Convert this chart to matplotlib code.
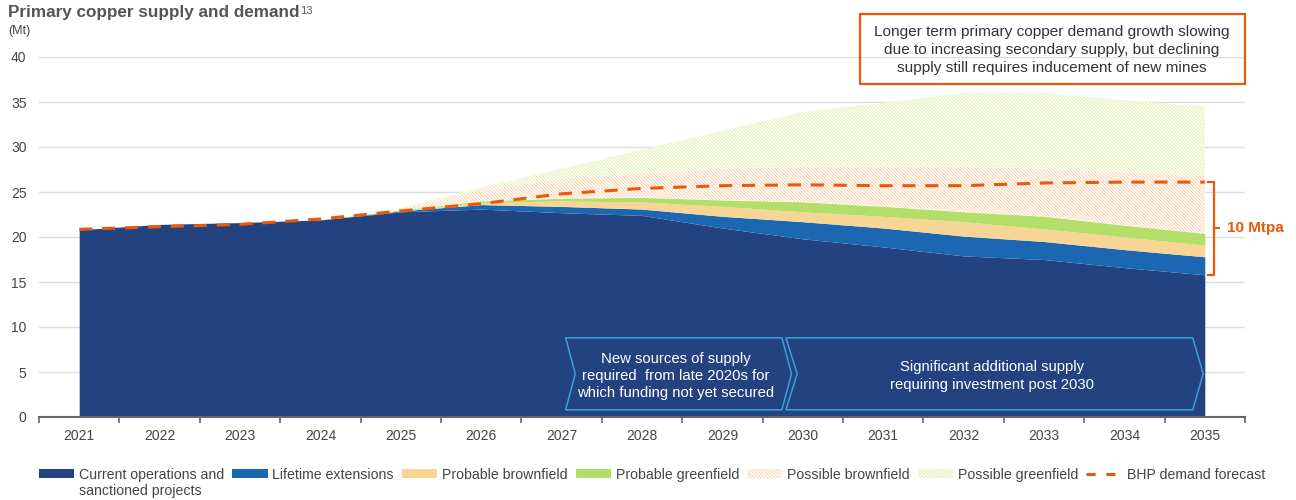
import matplotlib.pyplot as plt
import numpy as np
from matplotlib.patches import Patch, Polygon, Rectangle
from matplotlib.lines import Line2D

plt.rcParams['font.family'] = ['Liberation Sans', 'DejaVu Sans']
plt.rcParams['hatch.linewidth'] = 0.7

# Data (Mt)
years = np.arange(2021, 2036)
current_ops = [20.8, 21.4, 21.6, 21.9, 22.8, 23.1, 22.7, 22.4, 21.0, 19.8,
               18.9, 17.9, 17.5, 16.6, 15.8]
lifetime_ext = [0.0, 0.0, 0.0, 0.0, 0.1, 0.5, 0.7, 0.7, 1.3, 1.9,
                2.1, 2.2, 2.0, 2.0, 2.0]
probable_brown = [0.0, 0.0, 0.0, 0.0, 0.0, 0.25, 0.6, 0.8, 1.1, 1.1,
                  1.3, 1.6, 1.4, 1.4, 1.3]
probable_green = [0.0, 0.0, 0.0, 0.0, 0.1, 0.15, 0.3, 0.5, 0.7, 1.1,
                  1.1, 1.1, 1.4, 1.3, 1.3]
possible_brown = [0.0, 0.0, 0.0, 0.0, 0.1, 1.2, 2.2, 2.7, 3.5, 3.9,
                  4.4, 5.0, 5.3, 5.9, 6.4]
possible_green = [0.0, 0.0, 0.0, 0.0, 0.1, 0.3, 1.1, 2.6, 4.2, 6.1,
                  7.1, 8.2, 8.4, 8.0, 7.7]
demand = [20.85, 21.15, 21.4, 22.0, 22.9, 23.7, 24.8, 25.4, 25.7, 25.8,
          25.7, 25.7, 26.0, 26.1, 26.1]

labels = ["Current operations and", "Lifetime extensions", "Probable brownfield",
          "Probable greenfield", "Possible brownfield", "Possible greenfield",
          "BHP demand forecast"]

c_dark = "#22437f"
c_blue = "#1c67b1"
c_beige = "#f7d595"
c_green = "#b3de69"
c_hatch_brown = "#fbd2ae"
c_hatch_green = "#dfefaa"
c_orange = "#e8590c"
c_text = "#444444"
hatch = "\\" * 10

W, H = 1296, 500
fig = plt.figure(figsize=(W / 100, H / 100), dpi=100)
ax = fig.add_axes([39 / W, 1 - 417 / H, (1245 - 39) / W, (417 - 57) / H])

# Stacked supply layers
layers = [current_ops, lifetime_ext, probable_brown, probable_green,
          possible_brown, possible_green]
base = np.zeros(len(years))
tops = []
for vals in layers:
    top = base + np.array(vals)
    tops.append((base.copy(), top))
    base = top

solid = [c_dark, c_blue, c_beige, c_green]
for (lo, hi), col in zip(tops[:4], solid):
    ax.fill_between(years, lo, hi, color=col, linewidth=0, zorder=2)
for (lo, hi), col in zip(tops[4:], [c_hatch_brown, c_hatch_green]):
    ax.fill_between(years, lo, hi, facecolor="white", edgecolor=col,
                    hatch=hatch, linewidth=0, zorder=1.5)

ax.plot(years, demand, color=c_orange, lw=2.2, dashes=(4.3, 3.2), zorder=4)

# Axes styling
ax.set_xlim(2020.5, 2035.5)
ax.set_ylim(0, 40)
ax.set_yticks(np.arange(0, 41, 5))
ax.set_xticks(years)
ax.set_xticks(np.arange(2020.5, 2036, 1), minor=True)
ax.tick_params(axis='x', which='major', length=0, pad=9, labelsize=10,
               labelcolor=c_text)
ax.tick_params(axis='x', which='minor', length=4, width=1.2, color="#666666")
ax.tick_params(axis='y', length=0, pad=9, labelsize=10, labelcolor=c_text)
for s in ["top", "right", "left"]:
    ax.spines[s].set_visible(False)
ax.spines["bottom"].set_color("#666666")
ax.spines["bottom"].set_linewidth(1.5)
ax.spines["bottom"].set_zorder(5)
ax.grid(axis='y', color="#dddddd", linewidth=1)
ax.set_axisbelow(True)

# Chevron call-outs over the current operations area
def chevron(x0, x1, y0, y1, notch, tip):
    ym = (y0 + y1) / 2
    pts = [(x0, y0), (x1, y0), (x1 + tip, ym), (x1, y1), (x0, y1), (x0 + notch, ym)]
    ax.add_patch(Polygon(pts, closed=True, fill=False, edgecolor="#3c9fdc",
                         linewidth=1.1, zorder=6))

chevron(2027.05, 2029.74, 0.8, 8.8, 0.12, 0.12)
chevron(2029.79, 2034.85, 0.8, 8.8, 0.14, 0.13)
ax.text(2028.42, 4.55, "New sources of supply\nrequired  from late 2020s for\nwhich funding not yet secured",
        ha="center", va="center", color="white", fontsize=10.7, linespacing=1.3, zorder=7)
ax.text(2032.35, 4.55, "Significant additional supply\nrequiring investment post 2030",
        ha="center", va="center", color="white", fontsize=10.7, linespacing=1.3, zorder=7)

# Gap bracket at 2035
xb = 2035.12
y_hi, y_lo = demand[-1], current_ops[-1]
ym = (y_hi + y_lo) / 2
ax.plot([xb - 0.08, xb, xb, xb - 0.08], [y_hi, y_hi, y_lo, y_lo],
        color=c_orange, lw=1.6, clip_on=False, zorder=6)
ax.plot([xb, xb + 0.06], [ym, ym], color=c_orange, lw=1.6, clip_on=False, zorder=6)
ax.text(xb + 0.15, ym, "10 Mtpa", color=c_orange, fontsize=11, fontweight="bold",
        ha="left", va="center", clip_on=False)

# Titles
def px(x, y):
    return x / W, 1 - y / H

title = fig.text(*px(8, 13), "Primary copper supply and demand", fontsize=12.3,
                 fontweight="bold", color="#555555", ha="left", va="center")
fig.text(*px(8, 31), "(Mt)", fontsize=9, color=c_text, ha="left", va="center")

# Annotation box
fig.patches.append(Rectangle(px(860, 84), (1245 - 860) / W, 70 / H, transform=fig.transFigure,
                             fill=False, edgecolor=c_orange, linewidth=1.6))
fig.text(*px(1052, 50), "Longer term primary copper demand growth slowing\n"
         "due to increasing secondary supply, but declining\n"
         "supply still requires inducement of new mines",
         ha="center", va="center", fontsize=11.1, color="#333333", linespacing=1.32)

# Legend
handles = [Patch(facecolor=c_dark), Patch(facecolor=c_blue), Patch(facecolor=c_beige),
           Patch(facecolor=c_green),
           Patch(facecolor="white", edgecolor=c_hatch_brown, hatch=hatch, linewidth=0),
           Patch(facecolor="white", edgecolor=c_hatch_green, hatch=hatch, linewidth=0),
           Line2D([0], [0], color=c_orange, lw=2.2, dashes=(3, 3.5))]
leg = fig.legend(handles, labels, ncol=7, loc="upper left", bbox_to_anchor=px(33, 462),
                 frameon=False, fontsize=10.2, handlelength=2.5, handleheight=0.65,
                 handletextpad=0.35, columnspacing=0.55, borderaxespad=0)
for t in leg.get_texts():
    t.set_color(c_text)

fig.canvas.draw()
bb = leg.get_texts()[0].get_window_extent()
fig.text(bb.x0 / W, (bb.y0 - 16) / H, "sanctioned projects", fontsize=10.2, color=c_text,
         ha="left", va="bottom")
tb = title.get_window_extent()
fig.text((tb.x1 + 1) / W, tb.y1 / H, "13", fontsize=8, color="#555555",
         ha="left", va="top")

fig.savefig("out.png", dpi=100)
